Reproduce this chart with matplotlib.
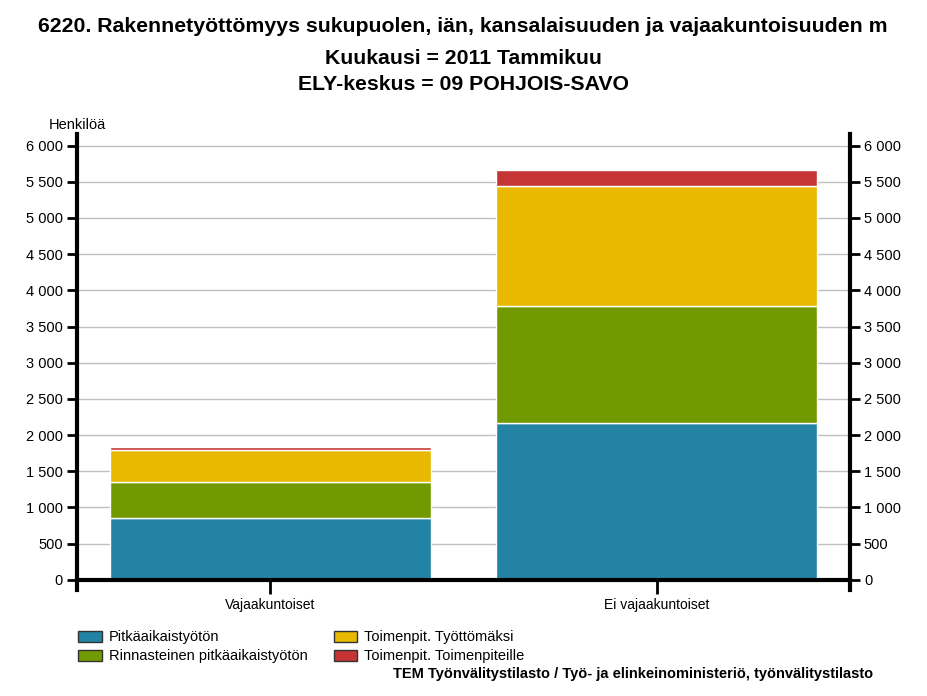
import numpy as np
import matplotlib.pyplot as plt
from matplotlib.patches import Patch

plt.rcParams['font.family'] = ['Liberation Sans', 'DejaVu Sans']

categories = ['Vajaakuntoiset', 'Ei vajaakuntoiset']
series_names = ['Pitkäaikaistyötön', 'Rinnasteinen pitkäaikaistyötön',
                'Toimenpit. Työttömäksi', 'Toimenpit. Toimenpiteille']
pitkaaikais = [852, 2161]
rinnasteinen = [503, 1624]
tyottomaksi = [437, 1654]
toimenpiteille = [38, 217]
colors = ['#2283A4', '#709A00', '#E8B900', '#C63535']
yticks = np.arange(0, 6001, 500)

fig = plt.figure(figsize=(9.27, 6.96), dpi=100)
ax = fig.add_axes([77 / 927, 1 - 590 / 696, (850 - 77) / 927, (590 - 134) / 696])

x = np.arange(len(categories))
bottom = np.zeros(len(categories))
for vals, col in zip([pitkaaikais, rinnasteinen, tyottomaksi, toimenpiteille], colors):
    ax.bar(x, vals, width=0.83, bottom=bottom, color=col, edgecolor='white',
           linewidth=1, zorder=3)
    bottom += np.array(vals)

ax.set_xlim(-0.5, 1.5)
ax.set_ylim(-140, 6160)
ax.set_yticks(yticks)
ax.set_yticklabels([f'{v:,}'.replace(',', ' ') for v in yticks], fontsize=10.5)
ax.yaxis.grid(True, color='#c0c0c0', linewidth=1, zorder=0)
ax.tick_params(axis='y', which='both', left=True, right=True, labelleft=True,
               labelright=True, length=7, width=2, pad=3)

ax.set_xticks(x)
ax.set_xticklabels(categories, fontsize=10.5)
ax.tick_params(axis='x', length=10, width=2, pad=3)

for s in ['left', 'right']:
    ax.spines[s].set_linewidth(3)
ax.spines['top'].set_visible(False)
ax.spines['bottom'].set_position(('data', 0))
ax.spines['bottom'].set_linewidth(3)
ax.spines['bottom'].set_zorder(5)

fig.text(77 / 927, 1 - 125 / 696, 'Henkilöä', ha='center', va='center', fontsize=10.5)

fig.text(463 / 927, 1 - 27 / 696,
         '6220. Rakennetyöttömyys sukupuolen, iän, kansalaisuuden ja vajaakuntoisuuden m',
         ha='center', va='center', fontsize=15.3, fontweight='bold')
fig.text(463 / 927, 1 - 58 / 696, 'Kuukausi = 2011 Tammikuu', ha='center', va='center',
         fontsize=15.3, fontweight='bold')
fig.text(463 / 927, 1 - 84 / 696, 'ELY-keskus = 09 POHJOIS-SAVO', ha='center', va='center',
         fontsize=15.3, fontweight='bold')

handles = [Patch(facecolor=c, edgecolor='#333333', linewidth=1) for c in colors]
fig.legend(handles, series_names,
           loc='upper left', bbox_to_anchor=(68 / 927, 1 - 620 / 696), ncol=2,
           frameon=False, fontsize=10.5, handlelength=1.6, handleheight=0.8,
           handletextpad=0.5, columnspacing=1.8, labelspacing=0.35,
           borderpad=0.2)

fig.text(873 / 927, 1 - 674 / 696,
         'TEM Työnvälitystilasto / Työ- ja elinkeinoministeriö, työnvälitystilasto',
         ha='right', va='center', fontsize=10.5, fontweight='bold')

fig.savefig('out.png', dpi=100)
